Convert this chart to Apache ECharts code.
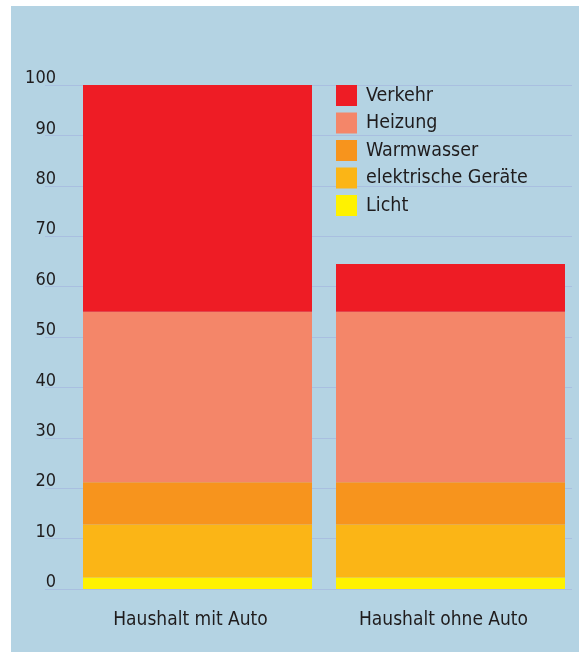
<!DOCTYPE html>
<html>
<head>
<meta charset="utf-8">
<script src="https://cdn.jsdelivr.net/npm/echarts@6/dist/echarts.min.js"></script>
<style>
html,body{margin:0;padding:0;background:#fff;}
#chart{width:579px;height:652px;}
</style>
</head>
<body>
<div id="chart"></div>
<script>
const categories = ['Haushalt mit Auto', 'Haushalt ohne Auto'];
const licht = [2.3, 2.3];
const geraete = [10.5, 10.5];
const warmwasser = [8.4, 8.4];
const heizung = [33.8, 33.8];
const verkehr = [45.2, 9.5];
const yMin = 0, yMax = 100, yStep = 10;

const FONT = '"DejaVu Sans Condensed", "Liberation Sans Narrow", "Liberation Sans", sans-serif';
const TXT = '#1f1c1d';

const chart = echarts.init(document.getElementById('chart'), null, {renderer: 'canvas'});

function mk(name, data, color) {
  return {
    name: name, type: 'bar', stack: 'total', data: data,
    xAxisIndex: 1, yAxisIndex: 1, barWidth: 229,
    itemStyle: {color: color}, emphasis: {disabled: true}, z: 3
  };
}

chart.setOption({
  backgroundColor: '#ffffff',
  animation: false,
  graphic: [{
    type: 'rect', left: 11, top: 6, z: -10,
    shape: {width: 568, height: 646},
    style: {fill: '#b4d3e3'}
  }],
  grid: [
    {left: 45, right: 7, top: 85, bottom: 63},
    {left: 71, right: 2, top: 85, bottom: 63}
  ],
  xAxis: [
    {gridIndex: 0, type: 'category', data: categories, show: false},
    {gridIndex: 1, type: 'category', data: categories,
     axisLine: {show: false}, axisTick: {show: false},
     axisLabel: {color: TXT, fontFamily: FONT, fontSize: 19, margin: 22, padding: [0, 14, 0, 0]}}
  ],
  yAxis: [
    {gridIndex: 0, type: 'value', min: yMin, max: yMax, interval: yStep,
     axisLine: {show: false}, axisTick: {show: false},
     splitLine: {show: true, lineStyle: {color: '#a9bfe0', width: 1}},
     axisLabel: {color: TXT, fontFamily: FONT, fontSize: 18, margin: -11, verticalAlign: 'bottom', lineHeight: 13}},
    {gridIndex: 1, type: 'value', min: yMin, max: yMax, interval: yStep, show: false,
     splitLine: {show: false}}
  ],
  legend: {
    orient: 'vertical', left: 336, top: 85, padding: 0,
    itemWidth: 21, itemHeight: 21, itemGap: 6.5, icon: 'rect',
    data: ['Verkehr', 'Heizung', 'Warmwasser', 'elektrische Geräte', 'Licht'],
    textStyle: {color: TXT, fontFamily: FONT, fontSize: 19.5, padding: [0, 0, 0, 4]},
    selectedMode: false
  },
  series: [
    mk('Licht', licht, '#fff200'),
    mk('elektrische Geräte', geraete, '#fbb516'),
    mk('Warmwasser', warmwasser, '#f7941d'),
    mk('Heizung', heizung, '#f48669'),
    mk('Verkehr', verkehr, '#ee1c25')
  ]
});
</script>
</body>
</html>
